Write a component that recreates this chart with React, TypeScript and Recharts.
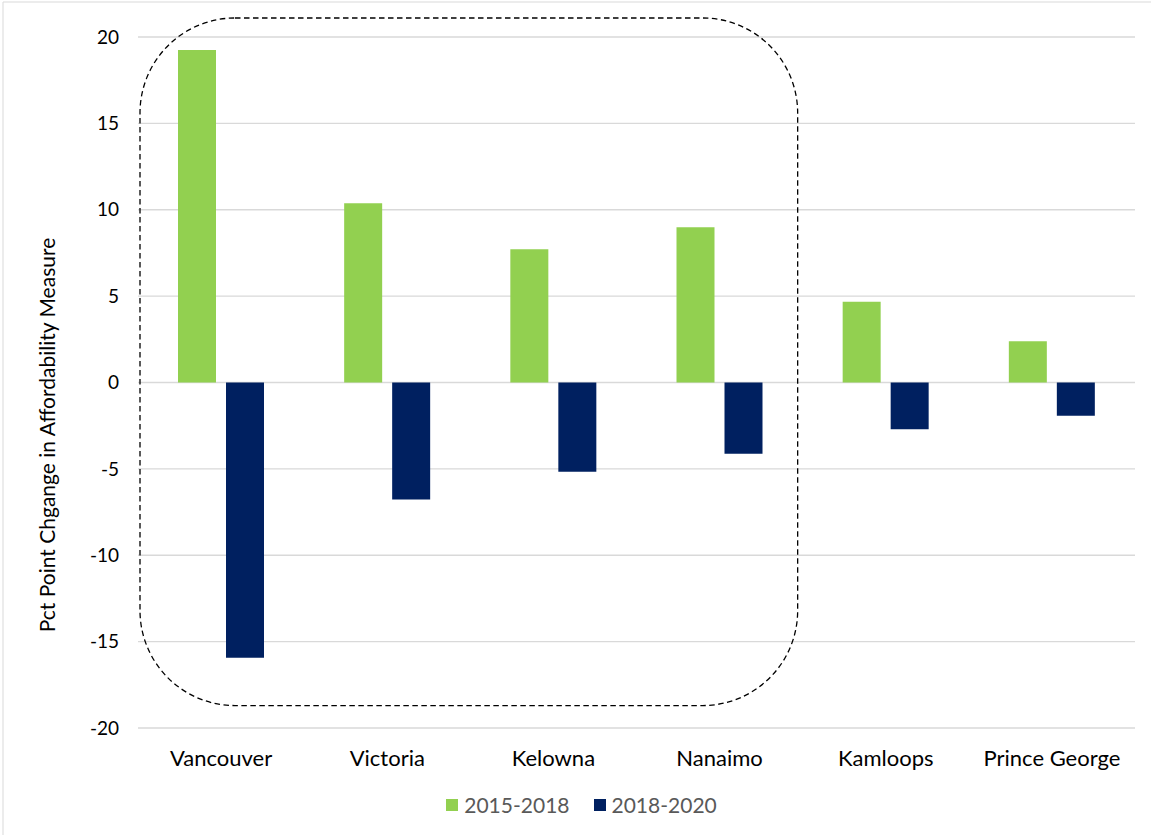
import React from 'react';
import {
  BarChart,
  Bar,
  XAxis,
  YAxis,
  CartesianGrid,
  Legend,
  ReferenceArea,
  Customized,
} from 'recharts';

const cities = ['Vancouver', 'Victoria', 'Kelowna', 'Nanaimo', 'Kamloops', 'Prince George'];
const change2015to2018 = [19.25, 10.38, 7.71, 8.99, 4.68, 2.39];
const change2018to2020 = [-15.94, -6.78, -5.16, -4.12, -2.7, -1.93];
const yTicks = [-20, -15, -10, -5, 0, 5, 10, 15, 20];
const seriesNames = ['2015-2018', '2018-2020'];
const seriesColors = ['#92D050', '#002060'];

const data = cities.map((city, i) => ({
  city,
  a: change2015to2018[i],
  b: change2018to2020[i],
}));

const FONT = 'Lato, "Open Sans", sans-serif';

// Dashed rounded outline grouping the four largest markets
const HighlightBox = (props: any) => {
  const { x, y, width, height } = props;
  return (
    <rect
      x={x + 2}
      y={y}
      width={width - 7}
      height={height}
      rx={95}
      ry={95}
      fill="none"
      stroke="#000"
      strokeWidth={1.3}
      strokeDasharray="5.5 3.5"
    />
  );
};

const LegendContent = () => (
  <div
    style={{
      display: 'flex',
      justifyContent: 'center',
      alignItems: 'center',
      fontFamily: FONT,
      fontSize: 21,
      color: '#595959',
      marginLeft: 28,
    }}
  >
    {seriesNames.map((name, i) => (
      <div key={name} style={{ display: 'flex', alignItems: 'center', marginRight: i === 0 ? 24 : 0 }}>
        <span style={{ width: 12, height: 12, background: seriesColors[i], display: 'inline-block', marginRight: 6 }} />
        <span>{name}</span>
      </div>
    ))}
  </div>
);

const Decorations = () => (
  <g>
    <line x1={3} y1={2} x2={1151} y2={2} stroke="#d9d9d9" strokeWidth={1} />
    <line x1={3} y1={2} x2={3} y2={835} stroke="#d9d9d9" strokeWidth={1} />
    <text
      x={0}
      y={0}
      transform="translate(55, 435) rotate(-90)"
      textAnchor="middle"
      fontFamily={FONT}
      fontSize={21}
      fill="#000"
    >
      Pct Point Chgange in Affordability Measure
    </text>
  </g>
);

export default function App() {
  return (
    <div style={{ position: 'absolute', left: 0, top: 0, width: 1151, height: 835, background: '#fff' }}>
      <BarChart
        width={1151}
        height={835}
        data={data}
        margin={{ top: 37, right: 16, bottom: 52, left: 0 }}
        barSize={38}
        barGap={10}
      >
        <CartesianGrid vertical={false} stroke="#d9d9d9" strokeWidth={1.3} />
        <XAxis
          dataKey="city"
          axisLine={false}
          tickLine={false}
          tickSize={0}
          tickMargin={22}
          tick={{ fontFamily: FONT, fontSize: 22, fill: '#000' }}
          interval={0}
        />
        <YAxis
          width={138}
          domain={[-20, 20]}
          ticks={yTicks}
          axisLine={false}
          tickLine={false}
          tickSize={0}
          tickMargin={19}
          tick={{ fontFamily: FONT, fontSize: 19, fill: '#000' }}
        />
        <Bar dataKey="a" name={seriesNames[0]} fill={seriesColors[0]} isAnimationActive={false} />
        <Bar dataKey="b" name={seriesNames[1]} fill={seriesColors[1]} isAnimationActive={false} />
        <ReferenceArea
          x1="Vancouver"
          x2="Nanaimo"
          y1={-18.7}
          y2={21.1}
          ifOverflow="visible"
          shape={HighlightBox}
        />
        <Legend verticalAlign="bottom" content={LegendContent} wrapperStyle={{ bottom: 18 }} />
        <Customized component={Decorations} />
      </BarChart>
    </div>
  );
}
